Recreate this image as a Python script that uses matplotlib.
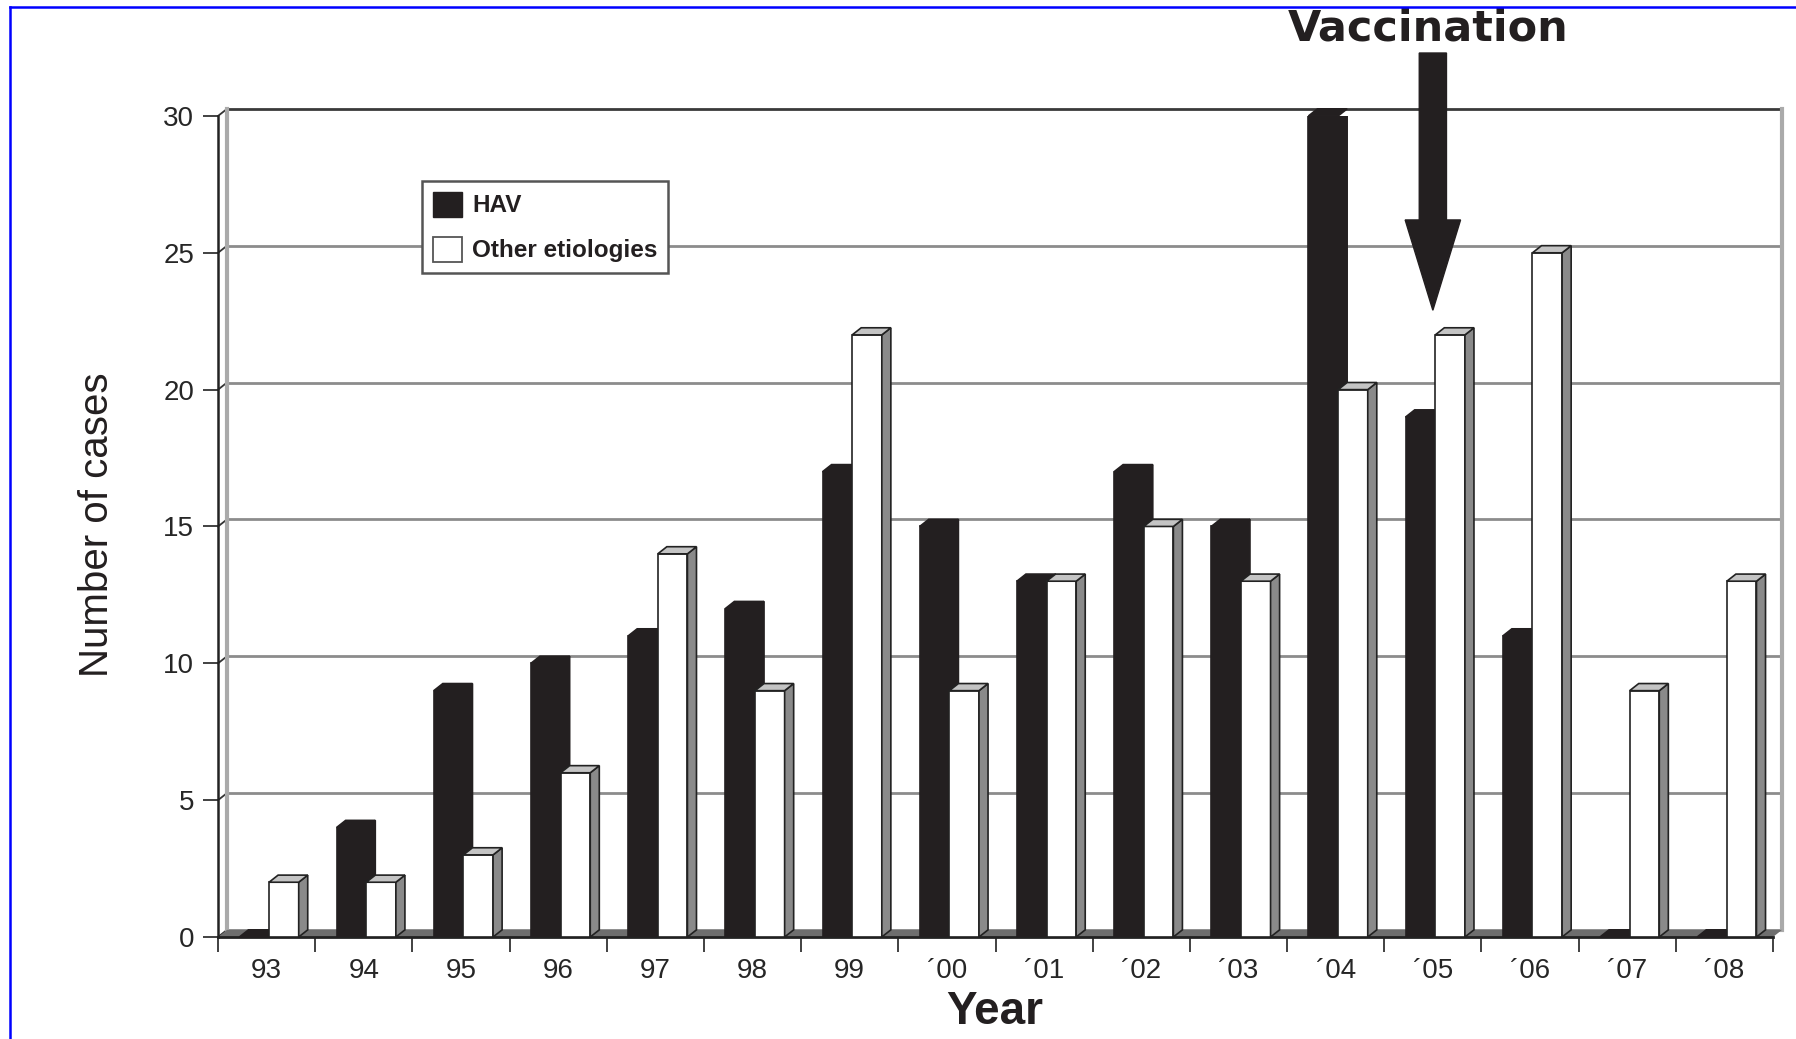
import matplotlib.pyplot as plt
import numpy as np
from matplotlib.patches import Polygon, Rectangle, Patch
from matplotlib.lines import Line2D

plt.rcParams['font.family'] = ['Liberation Sans', 'DejaVu Sans']

years = ['93', '94', '95', '96', '97', '98', '99', '\u00b400', '\u00b401', '\u00b402',
         '\u00b403', '\u00b404', '\u00b405', '\u00b406', '\u00b407', '\u00b408']
hav = [0, 4, 9, 10, 11, 12, 17, 15, 13, 17, 15, 30, 19, 11, 0, 0]
other = [2, 2, 3, 6, 14, 9, 22, 9, 13, 15, 13, 20, 22, 25, 9, 13]
yticks = [0, 5, 10, 15, 20, 25, 30]
vacc_year = '\u00b405'

ink = '#231f20'
grid_c = '#8c8c8c'
dx, dy = 0.093, 0.26   # depth of the fake 3d box (x in categories, y in cases)
bw = 0.305             # bar width

fig = plt.figure(figsize=(17.96, 10.39), dpi=100)
ax = fig.add_axes([0.1214, 0.0982, 0.8658, 0.7902])
n = len(years)
ymax = yticks[-1]
ax.set_xlim(-0.5, n - 0.5)
ax.set_ylim(0, ymax)
for s in ax.spines.values():
    s.set_visible(False)

x_l, x_r = -0.5, n - 0.5

# back wall: gridlines + diagonals from the front axis
for k in yticks:
    c = '#3a3a3a' if k == ymax else grid_c
    ax.plot([x_l + dx, x_r + dx], [k + dy, k + dy], color=c, lw=2, zorder=1, clip_on=False)
    ax.plot([x_l, x_l + dx], [k, k + dy], color='#333333', lw=1.3, zorder=1, clip_on=False)
ax.plot([x_l + dx, x_l + dx], [dy, ymax + dy], color='#aaaaaa', lw=3, zorder=1, clip_on=False)
ax.plot([x_r + dx, x_r + dx], [dy, ymax + dy], color='#aaaaaa', lw=3, zorder=1, clip_on=False)

# floor
ax.add_patch(Polygon([(x_l, 0), (x_l + dx, dy), (x_r + dx, dy), (x_r, 0)],
                     fc='#6e6e6e', ec='none', zorder=2, clip_on=False))
ax.plot([x_l, x_r], [0, 0], color='#222222', lw=2, zorder=2, clip_on=False)
ax.plot([x_l, x_l], [0, ymax], color='#222222', lw=1.8, zorder=2, clip_on=False)


def bar3d(x0, h, front, side, top, ec):
    if h > 0:
        ax.add_patch(Rectangle((x0, 0), bw, h, fc=front, ec=ec, lw=1.2, zorder=4))
        ax.add_patch(Polygon([(x0 + bw, 0), (x0 + bw + dx, dy), (x0 + bw + dx, h + dy), (x0 + bw, h)],
                             fc=side, ec=ec, lw=1.2, zorder=4))
    ax.add_patch(Polygon([(x0, h), (x0 + dx, h + dy), (x0 + bw + dx, h + dy), (x0 + bw, h)],
                         fc=top, ec=ec, lw=1.2, zorder=4, clip_on=False))


for i in range(n):
    bar3d(i - 0.28, hav[i], ink, ink, ink, ink)
    bar3d(i + 0.025, other[i], 'white', '#8a8a8a', '#c4c4c4', '#222222')

# ticks
ax.set_yticks(yticks)
ax.tick_params(axis='y', length=10.8, width=1.3, color='#333333', pad=6.5,
               labelsize=20, labelcolor='#262626')
ax.set_xticks(np.arange(-0.5, n, 1))
ax.set_xticklabels([])
ax.set_xticks(np.arange(n), minor=True)
ax.set_xticklabels(years, minor=True)
ax.tick_params(axis='x', which='major', length=10.8, width=1.3, color='#333333')
ax.tick_params(axis='x', which='minor', length=0, pad=15.5, labelsize=20, labelcolor='#262626')

fig.text(97 / 1796, 1 - 525 / 1039, 'Number of cases', rotation=90, ha='center', va='center',
         fontsize=29, color=ink)
fig.text(995 / 1796, 1 - 1012 / 1039, 'Year', ha='center', va='center',
         fontsize=33, fontweight='bold', color=ink)

# vaccination arrow
xa = years.index(vacc_year)
top_y, base_y, tip_y = 32.3, 26.2, 22.9
sw, hw = 0.14, 0.285
ax.add_patch(Polygon([(xa - sw, top_y), (xa + sw, top_y), (xa + sw, base_y), (xa + hw, base_y),
                      (xa, tip_y), (xa - hw, base_y), (xa - sw, base_y)],
                     fc=ink, ec=ink, lw=1, zorder=6, clip_on=False))
ax.text(xa - 0.05, 32.75, 'Vaccination', ha='center', va='baseline', fontsize=31,
        fontweight='bold', family='DejaVu Sans', color=ink, clip_on=False)

handles = [Patch(fc=ink, ec=ink), Patch(fc='white', ec='#555555', lw=1.3)]
leg = ax.legend(handles, ['HAV', 'Other etiologies'], loc='upper left',
                bbox_to_anchor=(421.7 / 1796, 1 - 180.7 / 1039), bbox_transform=fig.transFigure,
                borderaxespad=0, prop={'size': 17.5, 'weight': 'bold'}, handlelength=1.22,
                handleheight=1.2, labelspacing=0.8, borderpad=0.45, handletextpad=0.4,
                fancybox=False, framealpha=1, edgecolor='#555555')
leg.get_frame().set_linewidth(1.8)
leg.set_zorder(10)
for t in leg.get_texts():
    t.set_color(ink)

# frame around the picture
fig.add_artist(Line2D([10 / 1796, 10 / 1796], [0, 1 - 7 / 1039], color='blue', lw=1.8,
                      transform=fig.transFigure))
fig.add_artist(Line2D([10 / 1796, 1], [1 - 7 / 1039, 1 - 7 / 1039], color='blue', lw=1.8,
                      transform=fig.transFigure))

fig.savefig('out.png', dpi=100)
